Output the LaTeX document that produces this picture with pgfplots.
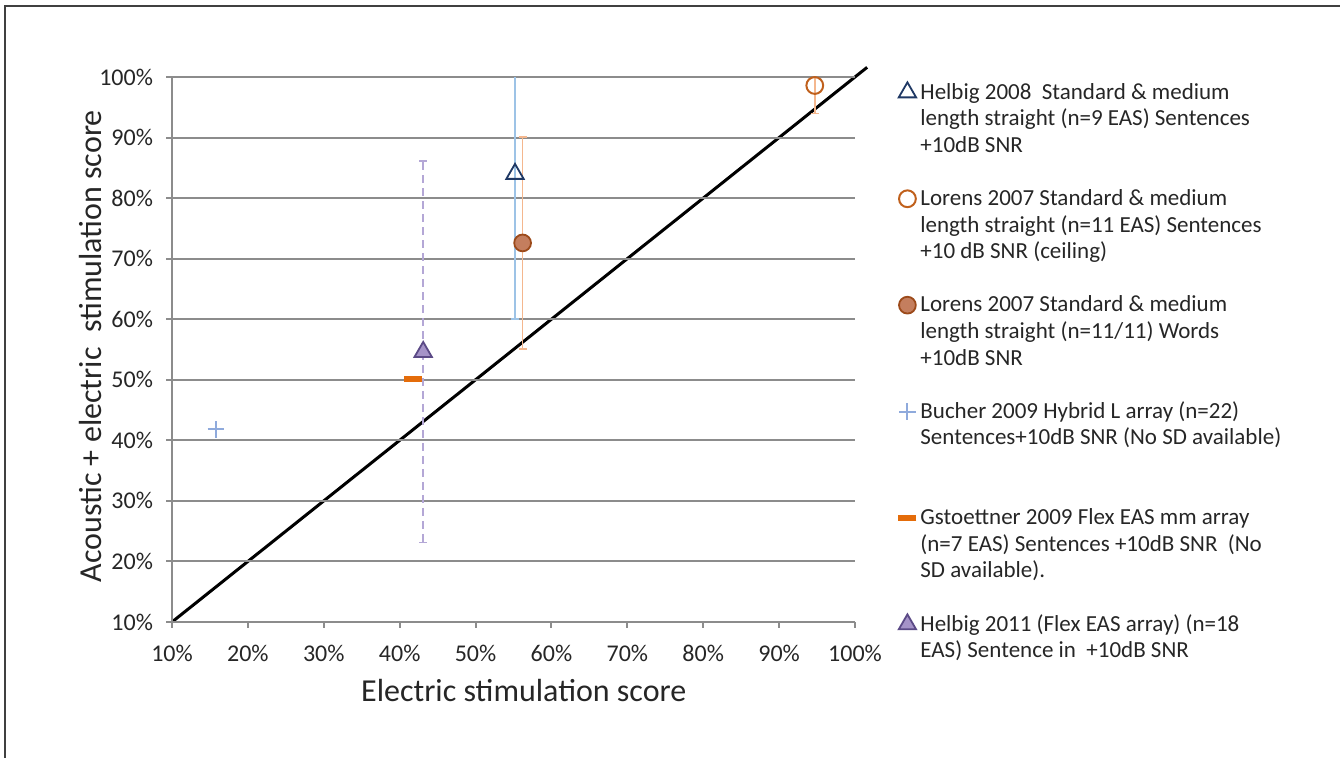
\documentclass[border=0pt]{standalone}
\usepackage{fontspec}
\setmainfont{Carlito}
\usepackage{pgfplots}
\pgfplotsset{compat=1.18}
\usetikzlibrary{patterns}

\definecolor{gridgray}{HTML}{8C8C8C}
\definecolor{framegray}{HTML}{404040}
\definecolor{txt}{HTML}{262626}
\definecolor{navy}{HTML}{1F3864}
\definecolor{lightblue}{HTML}{9DC3E6}
\definecolor{brownring}{HTML}{C0601C}
\definecolor{lightorange}{HTML}{F4B78E}
\definecolor{brownfill}{HTML}{C47E5E}
\definecolor{browndraw}{HTML}{9C4A1A}
\definecolor{crossblue}{HTML}{8FAADC}
\definecolor{dashorange}{HTML}{E46C0A}
\definecolor{lavender}{HTML}{B4A7D6}
\definecolor{purplefill}{HTML}{A593C8}
\definecolor{purpledraw}{HTML}{5B4A86}

\begin{document}
\begin{tikzpicture}
\path[use as bounding box] (0pt,0pt) rectangle (670pt,379pt);
\draw[framegray, line width=0.75pt] (2.5pt,0pt) -- (2.5pt,376pt) -- (670pt,376pt);

% diagonal reference line, not clipped
\begin{axis}[
  at={(86pt,68pt)}, anchor=south west,
  scale only axis, width=341.5pt, height=272.5pt,
  xmin=10, xmax=100, ymin=10, ymax=100,
  hide axis, clip=false,
]
\addplot[black, line width=1.5pt] coordinates {(10,10) (101.6,101.6)};
\end{axis}

\begin{axis}[
  at={(86pt,68pt)}, anchor=south west,
  scale only axis, width=341.5pt, height=272.5pt,
  xmin=10, xmax=100, ymin=10, ymax=100,
  xtick={10,20,...,100}, ytick={10,20,...,100},
  axis x line*=bottom, axis y line*=left,
  axis line style={gridgray, line width=1pt},
  tick style={gridgray, line width=1pt},
  tick align=outside, major tick length=3pt,
  ymajorgrids, grid style={gridgray, line width=1pt},
  /pgf/number format/assume math mode=true,
  xticklabel={\pgfmathprintnumber{\tick}\%},
  yticklabel={\pgfmathprintnumber{\tick}\%},
  ticklabel style={font=\fontsize{12}{14}\selectfont, text=txt},
  xticklabel style={yshift=-5pt},
  yticklabel style={xshift=-3pt},
  xlabel={Electric stimulation score},
  ylabel={Acoustic + electric \ stimulation score},
  label style={font=\fontsize{16}{19}\selectfont, text=txt},
  xlabel style={at={(axis description cs:0.515,-0.125)}, anchor=center},
  ylabel style={at={(axis description cs:-0.12,0.506)}, anchor=center, rotate=0},
  legend cell align=left,
  legend image code/.code={\draw[mark repeat=2,mark phase=2,#1] plot coordinates {(0pt,0pt) (4.5pt,0pt) (9pt,0pt)};},
  legend style={
    at={(1.063,0.997)}, anchor=north west,
    draw=none, fill=none, inner sep=0pt, row sep=0pt, column sep=2pt,
    font=\fontsize{11.5}{13}\selectfont, text=txt,
    nodes={inner sep=0pt, text height=10pt, text depth=3.3pt},
  },
]

% Helbig 2008
\addplot[only marks, mark=triangle, mark size=5pt,
  mark options={navy, fill=white, line width=0.9pt},
  error bars/.cd, y dir=both, y explicit,
  error bar style={lightblue, line width=0.8pt},
  error mark options={lightblue, mark size=2pt, line width=0.8pt, rotate=90}]
  coordinates {(55.2,84.0) += (0,18) -= (0,24)};
\addlegendentry{Helbig 2008\ \ Standard \& medium}
\addlegendimage{empty legend}\addlegendentry{length straight (n=9 EAS) Sentences}
\addlegendimage{empty legend}\addlegendentry{+10dB SNR}
\addlegendimage{empty legend}\addlegendentry{\mbox{}}

% Lorens 2007 sentences
\addplot[only marks, mark=o, mark size=4.2pt,
  mark options={brownring, line width=1pt},
  error bars/.cd, y dir=both, y explicit,
  error bar style={lightorange, line width=0.8pt},
  error mark options={lightorange, mark size=2pt, line width=0.8pt, rotate=90}]
  coordinates {(94.7,98.6) += (0,5) -= (0,4.6)};
\addlegendentry{Lorens 2007 Standard \& medium}
\addlegendimage{empty legend}\addlegendentry{length straight (n=11 EAS) Sentences}
\addlegendimage{empty legend}\addlegendentry{+10 dB SNR (ceiling)}
\addlegendimage{empty legend}\addlegendentry{\mbox{}}

% Lorens 2007 words
\addplot[only marks, mark=*, mark size=4.2pt,
  mark options={draw=browndraw, fill=brownfill, line width=0.9pt,
    postaction={pattern=crosshatch dots, pattern color=browndraw}},
  error bars/.cd, y dir=both, y explicit,
  error bar style={lightorange, line width=0.8pt},
  error mark options={lightorange, mark size=2pt, line width=0.8pt, rotate=90}]
  coordinates {(56.2,72.6) +- (0,17.5)};
\addlegendentry{Lorens 2007 Standard \& medium}
\addlegendimage{empty legend}\addlegendentry{length straight (n=11/11) Words}
\addlegendimage{empty legend}\addlegendentry{+10dB SNR}
\addlegendimage{empty legend}\addlegendentry{\mbox{}}

% Bucher 2009
\addplot[only marks, mark=+, mark size=4.2pt,
  mark options={crossblue, line width=1pt}]
  coordinates {(15.8,41.8)};
\addlegendentry{Bucher 2009 Hybrid L array (n=22)}
\addlegendimage{empty legend}\addlegendentry{Sentences+10dB SNR (No SD available)}
\addlegendimage{empty legend}\addlegendentry{\mbox{}}
\addlegendimage{empty legend}\addlegendentry{\mbox{}}

% Gstoettner 2009
\addplot[only marks, mark=-, mark size=4.5pt,
  mark options={dashorange, line width=3pt}]
  coordinates {(41.8,50.2)};
\addlegendentry{Gstoettner 2009 Flex EAS mm array}
\addlegendimage{empty legend}\addlegendentry{(n=7 EAS) Sentences +10dB SNR\ \ (No}
\addlegendimage{empty legend}\addlegendentry{SD available).}
\addlegendimage{empty legend}\addlegendentry{\mbox{}}

% Helbig 2011
\addplot[only marks, mark=triangle*, mark size=5pt,
  mark options={draw=purpledraw, fill=purplefill, line width=0.9pt,
    postaction={pattern=vertical lines, pattern color=purpledraw}},
  error bars/.cd, y dir=both, y explicit,
  error bar style={lavender, line width=0.8pt, dash pattern=on 4pt off 2.5pt},
  error mark options={lavender, mark size=2pt, line width=0.8pt, rotate=90, solid}]
  coordinates {(43.1,54.6) +- (0,31.5)};
\addlegendentry{Helbig 2011 (Flex EAS array) (n=18}
\addlegendimage{empty legend}\addlegendentry{EAS) Sentence in\ \ +10dB SNR}

\end{axis}
\end{tikzpicture}
\end{document}
